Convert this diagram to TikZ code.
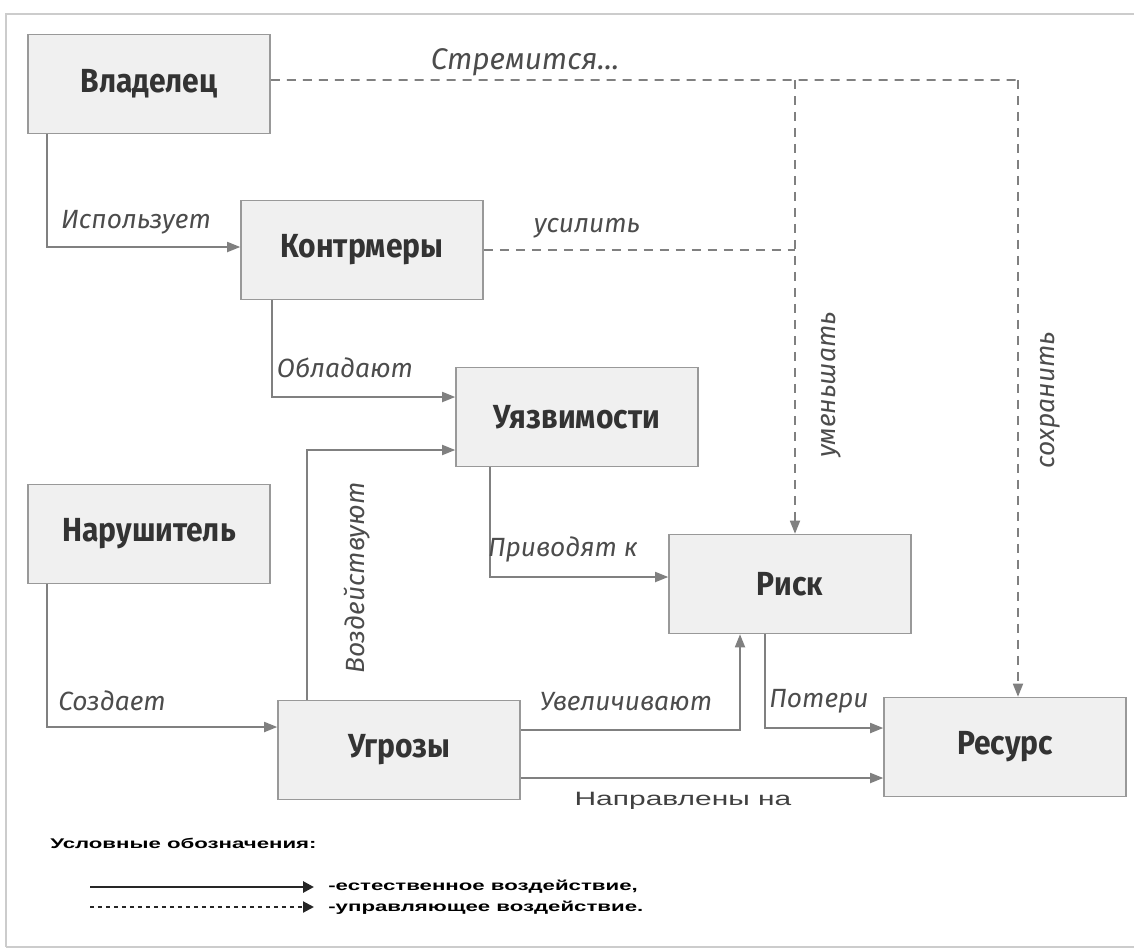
\documentclass[tikz,border=0pt]{standalone}
\usepackage{fontspec}
\setmainfont{Fira Sans}
\newfontfamily\bxf[FakeStretch=0.9]{Fira Sans}
\newfontfamily\itf[FakeStretch=1.0]{Fira Sans}
\newfontfamily\widef[FakeStretch=1.58]{Liberation Sans}
\newfontfamily\plainf[FakeStretch=1.55]{Liberation Sans}
\usetikzlibrary{arrows.meta,calc}
\begin{document}
\begin{tikzpicture}[x=0.02cm,y=-0.02cm]
\tikzset{
 blk/.style={draw=black!40, line width=0.9pt, fill=black!6, minimum width=4.84cm, minimum height=1.98cm, inner sep=0pt,
   font=\bxf\bfseries\fontsize{19}{22}\selectfont, text=black!80},
 lbl/.style={font=\itf\itshape\fontsize{15}{17}\selectfont, text=black!70, inner sep=0pt},
 conn/.style={draw=black!50, line width=1pt},
 arr/.style={conn, -{Triangle[length=0.26cm,width=0.2cm]}},
 dsh/.style={conn, dash pattern=on 0.18cm off 0.14cm},
 darr/.style={dsh, -{Triangle[length=0.26cm,width=0.2cm]}},
 legtext/.style={font=\widef\bfseries\fontsize{8}{9}\selectfont, text=black, inner sep=0pt, anchor=west},
}
\useasboundingbox (0,0) rectangle (1134,951);
% frame
\draw[black!20, line width=1pt] (6,947) -- (6,14) -- (1134,14);
\draw[black!20, line width=1pt] (6,947) -- (1134,947);

% boxes
\node[blk] (vl) at (149,84) {Владелец};
\node[blk] (km) at (362,250) {Контрмеры};
\node[blk] (uz) at (577,417) {Уязвимости};
\node[blk] (nr) at (149,534) {Нарушитель};
\node[blk] (rk) at (790,584) {Риск};
\node[blk] (ug) at (399,750) {Угрозы};
\node[blk] (rs) at (1005,747) {Ресурс};

% solid connectors
\draw[arr] ([xshift=0.4cm]vl.south west) |- ([yshift=0.06cm]km.west);
\draw[arr] ([xshift=0.64cm]km.south west) |- ([yshift=0.4cm]uz.west);
\draw[arr] ([xshift=0.6cm]ug.north west) |- ([yshift=-0.66cm]uz.west);
\draw[arr] ([xshift=0.7cm]uz.south west) |- ([yshift=0.14cm]rk.west);
\draw[arr] ([xshift=0.4cm]nr.south west) |- ([yshift=0.46cm]ug.west);
\draw[arr] ([yshift=0.4cm]ug.east) -| ([xshift=-1cm]rk.south);
\draw[arr] ([xshift=-0.5cm]rk.south) |- ([yshift=0.38cm]rs.west);
\draw[arr] ([yshift=-0.56cm]ug.east) -- ([yshift=-0.56cm]ug.east -| rs.west);

% dashed connectors
\coordinate (j1) at (795,80);
\coordinate (j2) at (1018,80);
\draw[dsh] ([yshift=0.08cm]vl.east) -- (j2);
\draw[darr] (j1) -- (j1 |- rk.north);
\draw[darr] (j2) -- (j2 |- rs.north);
\draw[dsh] (km.east) -- (km.east -| j1);

% labels
\node[lbl, font=\itf\itshape\fontsize{17}{19}\selectfont] (tstr) at (525,62) {Стремится...};
\node[lbl] (tisp) at (136,222) {Использует};
\node[lbl] (tusl) at (587,228) {усилить};
\node[lbl] (tobl) at (345,368) {Обладают};
\node[lbl, rotate=90] (tvoz) at (357,578) {Воздействуют};
\node[lbl] (tpri) at (563,549) {Приводят к};
\node[lbl, rotate=90] (tum) at (831,385) {уменьшать};
\node[lbl, rotate=90] (tsoh) at (1050,400) {сохранить};
\node[lbl] (tsoz) at (112,701) {Создает};
\node[lbl] (tuv) at (626,702) {Увеличивают};
\node[lbl] (tpot) at (819,701) {Потери};
\node[font=\plainf\fontsize{11}{13}\selectfont, text=black!75, inner sep=0pt] (tnap) at (683,801) {Направлены на};

% legend
\node[legtext] (lt) at (50,843) {Условные обозначения:};
\coordinate (l1a) at (90,887);
\coordinate (l1b) at (314,887);
\coordinate (l2a) at (90,907);
\coordinate (l2b) at (314,907);
\draw[black!85, line width=1.6pt, -{Triangle[length=0.22cm,width=0.22cm]}] (l1a) -- (l1b);
\draw[black!85, line width=1.2pt, dash pattern=on 0.09cm off 0.07cm, -{Triangle[length=0.22cm,width=0.22cm]}] (l2a) -- (l2b);
\node[legtext] (ll1) at (328,887) {-естественное воздействие,};
\node[legtext] (ll2) at (328,908) {-управляющее воздействие.};
\end{tikzpicture}
\end{document}
